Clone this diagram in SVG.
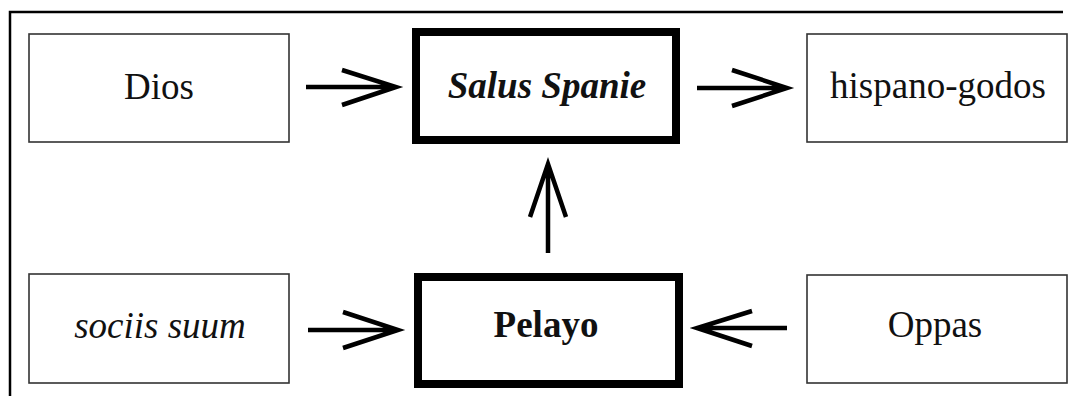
<svg xmlns="http://www.w3.org/2000/svg" width="1073" height="396" viewBox="0 0 1073 396">
<style>
.thin{fill:#fff;stroke:#333;stroke-width:1.6}
.thick{fill:#fff;stroke:#000;stroke-width:8}
.t{font-size:37px;fill:#111;text-anchor:middle}
.arr{fill:none;stroke:#000;stroke-width:4.5;stroke-linecap:butt;stroke-linejoin:miter}
</style>
<rect width="1073" height="396" fill="#fff"/>
<path d="M10,396 V12 H1063" fill="none" stroke="#000" stroke-width="2.5"/>
<g font-family="Liberation Serif, DejaVu Serif, serif">
<g id="dios"><rect class="thin" x="29" y="34" width="260" height="108"/><text class="t" x="159" y="99">Dios</text></g>
<g id="salus"><rect class="thick" x="416" y="32" width="260" height="108"/><text class="t" x="547" y="98" font-weight="bold" font-style="italic">Salus Spanie</text></g>
<g id="hispano"><rect class="thin" x="807" y="34" width="260" height="108"/><text class="t" x="938" y="98">hispano-godos</text></g>
<g id="sociis"><rect class="thin" x="29" y="274" width="260" height="109"/><text class="t" x="160" y="338" font-style="italic">sociis suum</text></g>
<g id="pelayo"><rect class="thick" x="418" y="277" width="261" height="107"/><text class="t" x="546" y="337" font-weight="bold">Pelayo</text></g>
<g id="oppas"><rect class="thin" x="807" y="275" width="260" height="108"/><text class="t" x="935" y="337">Oppas</text></g>
</g>
<g id="connectors">
<path class="arr" d="M306,87 H396 M342,70 L396,87 L342,105"/>
<path class="arr" d="M697,88 H787 M732,70 L787,88 L732,106"/>
<path class="arr" d="M548,253 V164 M530,217 L548,164 L566,217"/>
<path class="arr" d="M308,330 H398 M343,312 L398,330 L343,348"/>
<path class="arr" d="M787,328 H697 M752,311 L697,328 L752,346"/>
</g>
</svg>
